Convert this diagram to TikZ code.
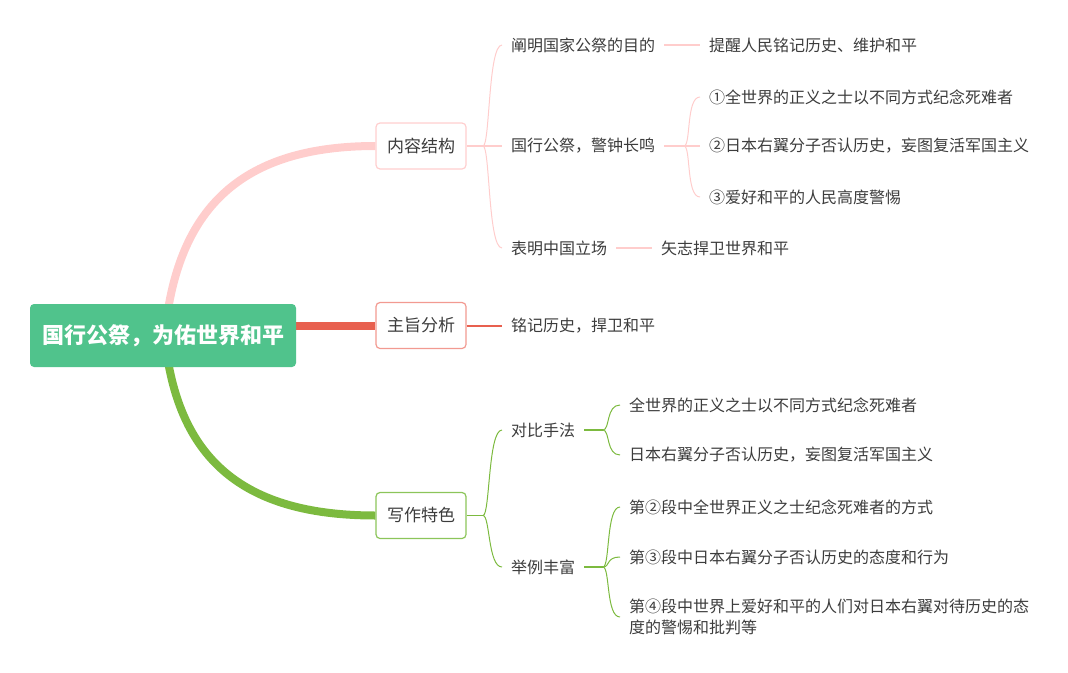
\documentclass[tikz,border=0pt]{standalone}
\usepackage{fontspec}
\setmainfont{Noto Sans CJK SC}
\usepackage{tikz}
\usetikzlibrary{backgrounds}
\definecolor{rootgreen}{HTML}{50C38C}
\definecolor{txtgray}{HTML}{3C3C3C}
\definecolor{pinkline}{HTML}{FFCDCC}
\definecolor{pinkbox}{HTML}{FFCFCF}
\definecolor{redline}{HTML}{E8604F}
\definecolor{redbox}{HTML}{F29A91}
\definecolor{greenline}{HTML}{7CBA3F}
\definecolor{greenbox}{HTML}{8CC55A}

\begin{document}
\begin{tikzpicture}[x=1pt,y=-1pt,
    every node/.style={text=txtgray,font=\fontsize{16}{21}\selectfont},
    leaf/.style={anchor=west,inner xsep=9pt,inner ysep=2pt,align=left},
    branch/.style={draw,rounded corners=4pt,line width=1.2pt,fill=white,
      minimum width=90pt,minimum height=46pt,font=\fontsize{17}{20}\selectfont},
    trunk/.style={line width=8pt},
    stem/.style={line width=1.6pt},
    twig/.style={line width=1pt}]
      \useasboundingbox (0,0) rectangle (1068,672);
      \node [fill=rootgreen,rounded corners=4pt,minimum width=266pt,minimum height=63pt,
        text=white,font=\bfseries\fontsize{22}{24}\selectfont] (root) at (163,335.5) {国行公祭，为佑世界和平};
      \node [branch,draw=pinkbox] (content) at (421,146) {内容结构};
      \node [branch,draw=redbox] (theme) at (421,325.5) {主旨分析};
      \node [branch,draw=greenbox] (writing) at (421,515.5) {写作特色};
      \begin{scope}[on background layer]
      \draw [pinkline,trunk] ([xshift=5pt,yshift=-6pt]root.north) .. controls (186,200) and (250,146) .. (content.west);
      \draw [redline,trunk] (root.east |- theme.west) -- (theme.west);
      \draw [greenline,trunk] ([xshift=5pt,yshift=6pt]root.south) .. controls (186,465) and (250,515.5) .. (writing.west);
      \end{scope}

      \node [leaf] (aim) at (502,45) {阐明国家公祭的目的};
      \node [leaf] (remind) at (700,45) {提醒人民铭记历史、维护和平};
      \node [leaf] (alarm) at (502,146) {国行公祭，警钟长鸣};
      \node [leaf] (alarma) at (700,97) {①全世界的正义之士以不同方式纪念死难者};
      \node [leaf] (alarmb) at (700,146) {②日本右翼分子否认历史，妄图复活军国主义};
      \node [leaf] (alarmc) at (700,197) {③爱好和平的人民高度警惕};
      \node [leaf] (stand) at (502,248) {表明中国立场};
      \node [leaf] (vow) at (652,248) {矢志捍卫世界和平};
      \node [leaf] (keep) at (502,326) {铭记历史，捍卫和平};
      \node [leaf] (contrast) at (502,430) {对比手法};
      \node [leaf] (contrasta) at (620,405) {全世界的正义之士以不同方式纪念死难者};
      \node [leaf] (contrastb) at (620,455) {日本右翼分子否认历史，妄图复活军国主义};
      \node [leaf] (example) at (502,567) {举例丰富};
      \node [leaf] (examplea) at (620,507) {第②段中全世界正义之士纪念死难者的方式};
      \node [leaf] (exampleb) at (620,557) {第③段中日本右翼分子否认历史的态度和行为};
      \node [leaf] (examplec) at (620,617) {第④段中世界上爱好和平的人们对日本右翼对待历史的态\\度的警惕和批判等};

      \coordinate (jcontent) at (483,146);
      \coordinate (jalarm) at (684,146);
      \coordinate (jwriting) at (483,515.5);
      \coordinate (jcontrast) at (603,430);
      \coordinate (jexample) at (603,567);

      \draw [pinkline,stem] (content.east) -- (jcontent) -- (alarm.west);
      \foreach \n in {aim,stand}
        \draw [pinkline,twig] (jcontent) .. controls +(7,0) and +(-14,0) .. (\n.west);
      \draw [pinkline,stem] (aim.east) -- (remind.west);
      \draw [pinkline,stem] (alarm.east) -- (jalarm) -- (alarmb.west);
      \foreach \n in {alarma,alarmc}
        \draw [pinkline,twig] (jalarm) .. controls +(7,0) and +(-14,0) .. (\n.west);
      \draw [pinkline,stem] (stand.east) -- (vow.west);

      \draw [redline,line width=1.3pt] (theme.east |- keep.west) -- (keep.west);

      \draw [greenline,stem] (writing.east) -- (jwriting);
      \foreach \n in {contrast,example}
        \draw [greenline,twig] (jwriting) .. controls +(7,0) and +(-14,0) .. (\n.west);
      \draw [greenline,stem] (contrast.east) -- (jcontrast);
      \foreach \n in {contrasta,contrastb}
        \draw [greenline,twig] (jcontrast) .. controls +(7,0) and +(-14,0) .. (\n.west);
      \draw [greenline,stem] (example.east) -- (jexample);
      \foreach \n in {examplea,exampleb,examplec}
        \draw [greenline,twig] (jexample) .. controls +(7,0) and +(-14,0) .. (\n.west);
\end{tikzpicture}
\end{document}
